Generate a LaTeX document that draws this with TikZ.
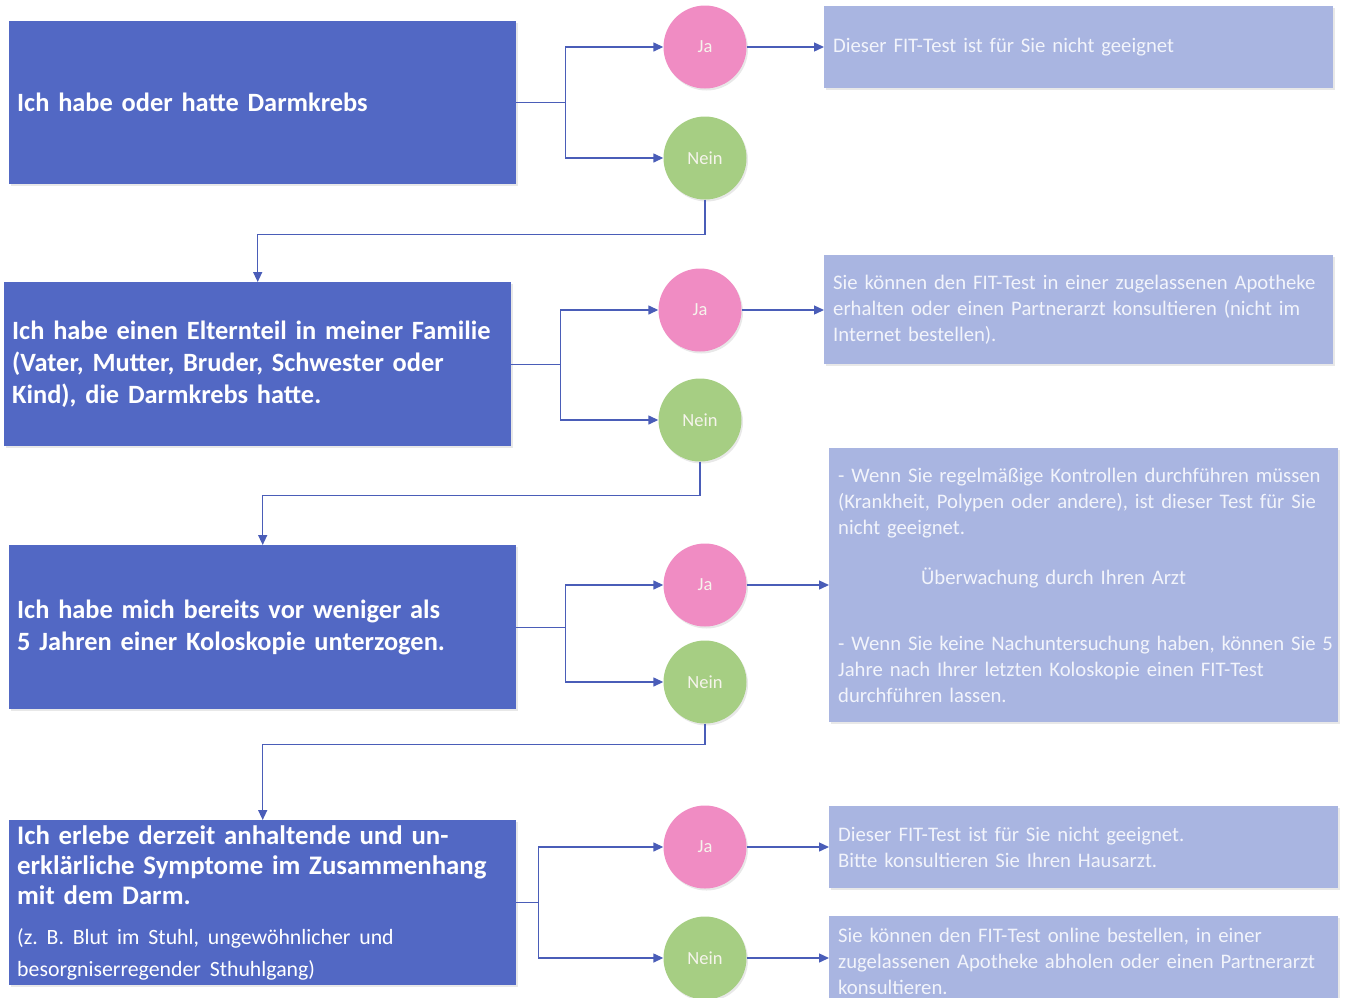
\documentclass[tikz,border=0pt]{standalone}
\usepackage{fontspec}
\setmainfont{Carlito}
\usetikzlibrary{arrows.meta,shadows,calc}
\definecolor{qfill}{HTML}{5268C4}
\definecolor{rfill}{HTML}{A9B5E1}
\definecolor{jafill}{HTML}{F08CC3}
\definecolor{neinfill}{HTML}{A6CE83}
\definecolor{linec}{HTML}{4A5DB8}
\definecolor{rtext}{HTML}{F2F4FB}
\definecolor{ctext}{HTML}{F6F4EC}
\begin{document}
\frenchspacing
\begin{tikzpicture}[x=1pt,y=-1pt,
  shad/.style={drop shadow={opacity=0.18,shadow xshift=1.5pt,shadow yshift=-2pt}},
  qbox/.style={shad,fill=qfill,draw=none,anchor=north west,minimum width=507pt,text width=491pt,inner xsep=8pt,inner ysep=0pt,align=left,text=white,font=\bfseries\fontsize{26.4}{32}\selectfont},
  rbox/.style={shad,fill=rfill,draw=none,anchor=north west,minimum width=509pt,text width=491pt,inner xsep=9pt,inner ysep=0pt,align=left,text=rtext,font=\fontsize{20.7}{26}\selectfont},
  jac/.style={shad,circle,fill=jafill,minimum size=83pt,inner sep=0pt,text=ctext,font=\fontsize{18.5}{20}\selectfont},
  neinc/.style={shad,circle,fill=neinfill,minimum size=83pt,inner sep=0pt,text=ctext,font=\fontsize{18.5}{20}\selectfont},
  conn/.style={draw=linec,line width=1.4pt},
  arr/.style={conn,-{Triangle[length=10pt,width=9pt]}}]
\useasboundingbox (0,0) rectangle (1345,997);
% question boxes
\node[qbox,minimum height=163pt] (q1) at (9,21) {Ich habe oder hatte Darmkrebs};
\node[qbox,minimum height=164pt] (q2) at (4,282) {Ich habe einen Elternteil in meiner Familie\\(Vater, Mutter, Bruder, Schwester oder\\Kind), die Darmkrebs hatte.};
\node[qbox,minimum height=164pt] (q3) at (9,545) {Ich habe mich bereits vor weniger als\\5 Jahren einer Koloskopie unterzogen.};
\node[qbox,minimum height=165pt] (q4) at (9,820) {\fontsize{26.8}{30}\selectfont Ich erlebe derzeit anhaltende und un-\\erklärliche Symptome im Zusammenhang\\mit dem Darm.\\[8pt]{\mdseries\fontsize{21.8}{32}\selectfont (z. B. Blut im Stuhl, ungewöhnlicher und\\besorgniserregender Sthuhlgang)}};
% circles
\node[jac] (ja1) at (705,47) {Ja};
\node[neinc] (nein1) at (705,158) {Nein};
\node[jac] (ja2) at (700,310) {Ja};
\node[neinc] (nein2) at (700,420) {Nein};
\node[jac] (ja3) at (705,585) {Ja};
\node[neinc] (nein3) at (705,682) {Nein};
\node[jac] (ja4) at (705,847) {Ja};
\node[neinc] (nein4) at (705,958) {Nein};
% result boxes
\node[rbox,minimum height=82pt] (r1) at (824,6) {Dieser FIT-Test ist für Sie nicht geeignet};
\node[rbox,minimum height=109pt] (r2) at (824,255) {Sie können den FIT-Test in einer zugelassenen Apotheke\\erhalten oder einen Partnerarzt konsultieren (nicht im\\Internet bestellen).};
\node[rbox,minimum height=274pt] (r3) at (829,448) {\mbox{- Wenn Sie regelmäßige Kontrollen durchführen müssen}\\(Krankheit, Polypen oder andere), ist dieser Test für Sie\\nicht geeignet.\\[24pt]\hspace*{83pt}Überwachung durch Ihren Arzt\\[40pt]\mbox{- Wenn Sie keine Nachuntersuchung haben, können Sie 5}\\Jahre nach Ihrer letzten Koloskopie einen FIT-Test\\durchführen lassen.};
\node[rbox,minimum height=82pt] (r4) at (829,806) {Dieser FIT-Test ist für Sie nicht geeignet.\\Bitte konsultieren Sie Ihren Hausarzt.};
\node[rbox,minimum height=90pt] (r5) at (829,916) {Sie können den FIT-Test online bestellen, in einer\\zugelassenen Apotheke abholen oder einen Partnerarzt\\konsultieren.};
% branches
\draw[conn] (q1.east) -- ($(q1.east)+(49,0)$) coordinate (j1);
\draw[arr] (j1) |- (ja1);
\draw[arr] (j1) |- (nein1);
\draw[conn] (q2.east) -- ($(q2.east)+(49,0)$) coordinate (j2);
\draw[arr] (j2) |- (ja2);
\draw[arr] (j2) |- (nein2);
\draw[conn] (q3.east) -- ($(q3.east)+(49,0)$) coordinate (j3);
\draw[arr] (j3) |- (ja3);
\draw[arr] (j3) |- (nein3);
\draw[conn] (q4.east) -- ($(q4.east)+(22,0)$) coordinate (j4);
\draw[arr] (j4) |- (ja4);
\draw[arr] (j4) |- (nein4);
% results
\draw[arr] (ja1) -- (ja1 -| r1.west);
\draw[arr] (ja2) -- (ja2 -| r2.west);
\draw[arr] (ja3) -- (ja3 -| r3.west);
\draw[arr] (ja4) -- (ja4 -| r4.west);
\draw[arr] (nein4) -- (nein4 -| r5.west);
% next questions
\draw[arr] (nein1.south) -- ++(0,35) -| (q2.north);
\draw[arr] (nein2.south) -- ++(0,34) -| (q3.north);
\draw[arr] (nein3.south) -- ++(0,21) -| (q4.north);
\end{tikzpicture}
\end{document}
